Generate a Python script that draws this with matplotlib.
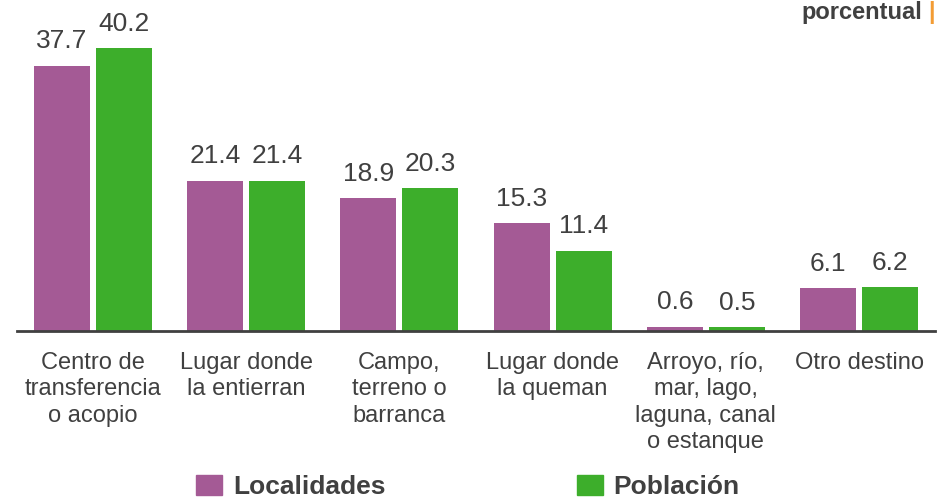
import matplotlib
matplotlib.use('Agg')
from matplotlib import pyplot as plt
from matplotlib.patches import Rectangle
import numpy as np

categories = ['Centro de\ntransferencia\no acopio', 'Lugar donde\nla entierran',
              'Campo,\nterreno o\nbarranca', 'Lugar donde\nla queman',
              'Arroyo, río,\nmar, lago,\nlaguna, canal\no estanque', 'Otro destino']
localidades = [37.7, 21.4, 18.9, 15.3, 0.6, 6.1]
poblacion = [40.2, 21.4, 20.3, 11.4, 0.5, 6.2]
series_names = ['Localidades', 'Población']

purple = '#A45A95'
green = '#3DAE2B'
txt = '#404040'

plt.rcParams['font.family'] = ['Liberation Sans', 'DejaVu Sans']

fig = plt.figure(figsize=(9.38, 4.98), dpi=100)
ax = fig.add_axes([17 / 938, 167 / 498, 918 / 938, 331 / 498])

x = np.arange(len(categories))
w = 0.3655
off = 0.2023
b1 = ax.bar(x - off, localidades, w, color=purple)
b2 = ax.bar(x + off, poblacion, w, color=green)

for bars, vals in ((b1, localidades), (b2, poblacion)):
    for b, v in zip(bars, vals):
        ax.text(b.get_x() + b.get_width() / 2, v + 2.5, f'{v:.1f}',
                ha='center', va='baseline', fontsize=19, color=txt)

ax.set_xlim(-0.496, 5.496)
ax.set_ylim(0, 47.1)
ax.set_yticks([])
ax.set_xticks(x)
ax.set_xticklabels(categories, fontsize=17, color=txt, linespacing=1.26)
ax.tick_params(axis='x', length=0, pad=15)
for s in ['top', 'right', 'left']:
    ax.spines[s].set_visible(False)
ax.spines['bottom'].set_color(txt)
ax.spines['bottom'].set_linewidth(2)

# legend drawn by hand to match the spacing
fig.patches.append(Rectangle((196 / 938, 3 / 498), 26 / 938, 20 / 498,
                             transform=fig.transFigure, color=purple))
fig.text(233 / 938, 11 / 498, series_names[0], fontsize=19, fontweight='bold',
         color=txt, va='center')
fig.patches.append(Rectangle((577 / 938, 3 / 498), 26 / 938, 20 / 498,
                             transform=fig.transFigure, color=green))
fig.text(613 / 938, 11 / 498, series_names[1], fontsize=19, fontweight='bold',
         color=txt, va='center')

fig.text(922 / 938, 485 / 498, 'porcentual', fontsize=17, fontweight='bold',
         color=txt, ha='right', va='center')
fig.text(928 / 938, 485 / 498, '|', fontsize=17, fontweight='bold',
         color='#F39C34', ha='left', va='center')

fig.savefig('out.png', dpi=100)
